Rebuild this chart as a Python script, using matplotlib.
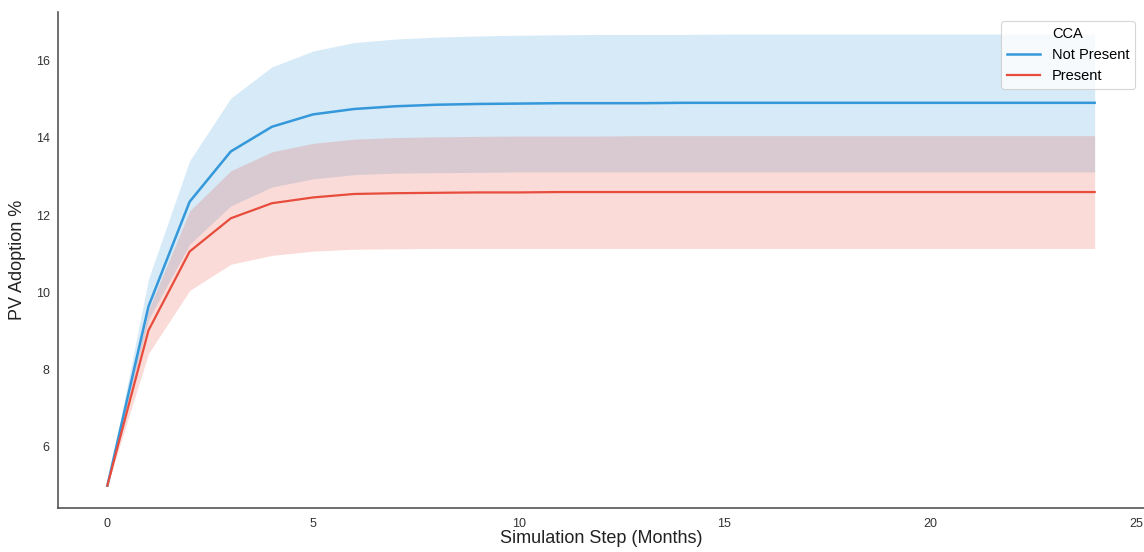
import matplotlib
matplotlib.use("Agg")
import matplotlib.pyplot as plt

steps = list(range(25))

not_present_mean = [5.00, 9.64, 12.35, 13.65, 14.29, 14.61, 14.75, 14.82, 14.86, 14.88, 14.89,
                    14.90, 14.90, 14.90, 14.91, 14.91, 14.91, 14.91, 14.91, 14.91, 14.91,
                    14.91, 14.91, 14.91, 14.91]
not_present_lo = [5.00, 9.30, 11.25, 12.24, 12.73, 12.94, 13.05, 13.09, 13.10, 13.11, 13.12,
                  13.12, 13.12, 13.12, 13.12, 13.12, 13.12, 13.12, 13.12, 13.12, 13.12,
                  13.12, 13.12, 13.12, 13.12]
not_present_hi = [5.00, 10.35, 13.41, 15.03, 15.84, 16.25, 16.47, 16.56, 16.61, 16.64, 16.66,
                  16.67, 16.68, 16.68, 16.68, 16.69, 16.69, 16.69, 16.69, 16.69, 16.69,
                  16.69, 16.69, 16.69, 16.69]

present_mean = [5.00, 9.02, 11.06, 11.92, 12.31, 12.46, 12.55, 12.57, 12.58, 12.59, 12.59,
                12.60, 12.60, 12.60, 12.60, 12.60, 12.60, 12.60, 12.60, 12.60, 12.60,
                12.60, 12.60, 12.60, 12.60]
present_lo = [5.00, 8.42, 10.05, 10.73, 10.96, 11.07, 11.12, 11.13, 11.14, 11.14, 11.14,
              11.14, 11.14, 11.14, 11.14, 11.14, 11.14, 11.14, 11.14, 11.14, 11.14,
              11.14, 11.14, 11.14, 11.14]
present_hi = [5.00, 9.55, 12.11, 13.15, 13.64, 13.86, 13.97, 14.01, 14.03, 14.04, 14.05,
              14.05, 14.05, 14.06, 14.06, 14.06, 14.06, 14.06, 14.06, 14.06, 14.06,
              14.06, 14.06, 14.06, 14.06]

series_labels = ["Not Present", "Present"]
legend_title = "CCA"
x_label = "Simulation Step (Months)"
y_label = "PV Adoption %"

plt.rcParams['font.family'] = ['Liberation Sans', 'DejaVu Sans']

fig = plt.figure(figsize=(11.44, 5.52), dpi=100)
ax = fig.add_axes([0.0507, 0.0797, 0.9493, 0.8985])

blue = "#3498db"
red = "#e74c3c"

ax.fill_between(steps, not_present_lo, not_present_hi, color=blue, alpha=0.2, linewidth=0)
ax.plot(steps, not_present_mean, color=blue, linewidth=1.8, label=series_labels[0])
ax.fill_between(steps, present_lo, present_hi, color=red, alpha=0.2, linewidth=0)
ax.plot(steps, present_mean, color=red, linewidth=1.6, label=series_labels[1])

ax.set_xlim(-1.2, 25.2)
ax.set_ylim(4.42, 17.26)
ax.set_xticks([0, 5, 10, 15, 20, 25])
ax.set_yticks([6, 8, 10, 12, 14, 16])
ax.tick_params(axis='x', labelsize=9, colors='#333333', length=0, pad=7)
ax.tick_params(axis='y', labelsize=9, colors='#333333', length=0, pad=6)

for s in ['top', 'right']:
    ax.spines[s].set_visible(False)
for s in ['left', 'bottom']:
    ax.spines[s].set_color('#555555')
    ax.spines[s].set_linewidth(1.2)

ax.set_xlabel(x_label, fontsize=13, color='#222222', labelpad=0)
ax.set_ylabel(y_label, fontsize=13, color='#222222', labelpad=7)

leg = ax.legend(title=legend_title, loc='upper right', fontsize=10.5, title_fontsize=10.5,
                frameon=True, framealpha=0.8, edgecolor='#cccccc', borderaxespad=0.6,
                handlelength=2.3)
leg.get_frame().set_linewidth(0.8)

fig.savefig("out.png", dpi=100)
